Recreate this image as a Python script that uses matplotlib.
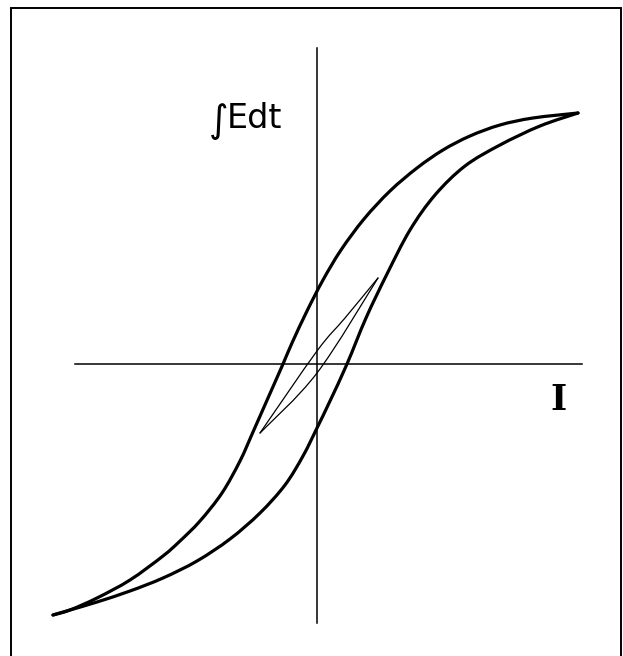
import numpy as np
import matplotlib
matplotlib.use("Agg")
import matplotlib.pyplot as plt
from matplotlib.path import Path
from matplotlib.patches import PathPatch

# major loop, ascending branch (lower curve), I vs integral of E dt
asc_I = [-2.64, -2.47, -2.20, -1.87, -1.54, -1.20, -0.87, -0.57, -0.32, -0.14,
         0.00, 0.13, 0.30, 0.49, 0.70, 0.93, 1.18, 1.48, 1.83, 2.23, 2.61]
asc_F = [-2.51, -2.46, -2.38, -2.27, -2.14, -1.97, -1.75, -1.49, -1.21, -0.92,
         -0.64, -0.37, 0.00, 0.46, 0.90, 1.34, 1.69, 1.98, 2.19, 2.38, 2.51]

# major loop, descending branch (upper curve)
desc_I = [2.61, 2.16, 1.83, 1.53, 1.26, 1.00, 0.73, 0.47, 0.24, 0.06, -0.10,
          -0.25, -0.34, -0.49, -0.64, -0.77, -0.95, -1.17, -1.37, -1.54,
          -1.87, -2.20, -2.47, -2.64]
desc_F = [2.51, 2.46, 2.39, 2.28, 2.14, 1.96, 1.73, 1.45, 1.14, 0.84, 0.53,
          0.21, 0.00, -0.34, -0.68, -0.97, -1.29, -1.57, -1.77, -1.92,
          -2.16, -2.34, -2.46, -2.51]

# minor loop
minor_desc_I = [0.61, 0.28, 0.00, -0.57]
minor_desc_F = [0.86, 0.46, 0.13, -0.69]
minor_asc_I = [-0.57, 0.00, 0.61]
minor_asc_F = [-0.69, -0.09, 0.86]


def smooth_path(xs, ys):
    # Catmull-Rom through the points, written as cubic Bezier segments
    p = np.column_stack([xs, ys]).astype(float)
    ext = np.vstack([p[0], p, p[-1]])
    verts = [p[0]]
    codes = [Path.MOVETO]
    for i in range(len(p) - 1):
        p0, p1, p2, p3 = ext[i], ext[i + 1], ext[i + 2], ext[i + 3]
        verts += [p1 + (p2 - p0) / 6, p2 - (p3 - p1) / 6, p2]
        codes += [Path.CURVE4] * 3
    return Path(verts, codes)


def draw_branch(ax, xs, ys, lw):
    ax.add_patch(PathPatch(smooth_path(xs, ys), fill=False, edgecolor='black',
                           lw=lw, joinstyle='round', capstyle='round'))


fig = plt.figure(figsize=(6.23, 6.56), dpi=100)
ax = fig.add_axes([0, 0, 1, 1])
ax.set_xlim(-3.17, 3.06)
ax.set_ylim(-2.92, 3.64)
ax.axis('off')

# outer frame (open at the bottom edge of the figure)
ax.plot([-3.06, -3.06, 3.04, 3.04], [-3.2, 3.56, 3.56, -3.2],
        color='black', lw=1.4, solid_joinstyle='miter')

# coordinate axes
ax.plot([-2.42, 2.65], [0, 0], color='black', lw=1.1)
ax.plot([0, 0], [3.16, -2.59], color='black', lw=1.1)

# hysteresis loops
draw_branch(ax, asc_I, asc_F, 2.3)
draw_branch(ax, desc_I, desc_F, 2.3)
draw_branch(ax, minor_desc_I, minor_desc_F, 0.9)
draw_branch(ax, minor_asc_I, minor_asc_F, 0.9)

ax.text(-1.08, 2.32, '\u222b', fontsize=27, family='DejaVu Sans',
        ha='left', va='baseline')
ax.text(-0.90, 2.36, 'Edt', fontsize=24, family='DejaVu Sans',
        ha='left', va='baseline')
ax.text(2.41, -0.36, 'I', fontsize=25, family='DejaVu Serif', weight='bold',
        ha='center', va='center')

fig.savefig('out.png', dpi=100, facecolor='white')
